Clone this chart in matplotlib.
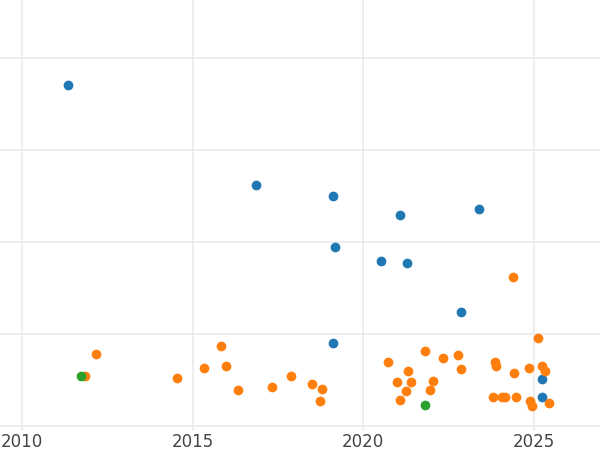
import numpy as np
import matplotlib.pyplot as plt

# values (y in grid units)
blue_x = [2011.35, 2016.86, 2019.12, 2021.08, 2019.18, 2023.40, 2020.53, 2021.29, 2022.87, 2019.12, 2025.25, 2025.25]
blue_y = [3.71, 2.62, 2.50, 2.30, 1.95, 2.36, 1.79, 1.77, 1.24, 0.91, 0.51, 0.32]

green_x = [2011.73, 2021.82]
green_y = [0.55, 0.23]

orange_x = [2011.85, 2012.17, 2014.55, 2015.34, 2015.84, 2015.99, 2016.33, 2017.33, 2017.89, 2018.50,
            2018.80, 2018.74, 2020.73, 2020.99, 2021.32, 2021.08, 2021.26, 2021.40, 2021.82, 2021.96,
            2022.05, 2022.35, 2022.79, 2022.87, 2023.87, 2023.90, 2023.81, 2024.08, 2024.16, 2024.43,
            2024.40, 2024.49, 2024.87, 2024.90, 2024.96, 2025.13, 2025.25, 2025.34, 2025.45]
orange_y = [0.55, 0.79, 0.53, 0.63, 0.87, 0.65, 0.39, 0.43, 0.55, 0.46,
            0.41, 0.27, 0.70, 0.48, 0.60, 0.29, 0.38, 0.48, 0.82, 0.39,
            0.49, 0.74, 0.77, 0.62, 0.70, 0.65, 0.32, 0.32, 0.32, 0.58,
            1.62, 0.32, 0.63, 0.27, 0.22, 0.96, 0.65, 0.60, 0.25]

x_ticks = [2010, 2015, 2020, 2025]

fig = plt.figure(figsize=(6, 4.5), dpi=100)
ax = fig.add_axes([0, 20 / 450, 1, 430 / 450])

ax.scatter(blue_x, blue_y, s=36, color='#1f77b4', zorder=3)
ax.scatter(orange_x, orange_y, s=36, color='#ff7f0e', zorder=3)
ax.scatter(green_x, green_y, s=36, color='#2ca02c', zorder=4)

ax.set_xlim(2009.35, 2026.95)
ax.set_ylim(-0.04, 4.63)
ax.set_xticks(x_ticks)
ax.set_xticklabels([str(t) for t in x_ticks])
ax.set_yticks([0, 1, 2, 3, 4])
ax.set_yticklabels([])
ax.tick_params(length=0, labelsize=12, labelcolor='#444444', pad=2)
ax.grid(True, color='#ebebeb', linewidth=1.2)
ax.set_axisbelow(True)
for s in ax.spines.values():
    s.set_visible(False)

fig.savefig('out.png')
